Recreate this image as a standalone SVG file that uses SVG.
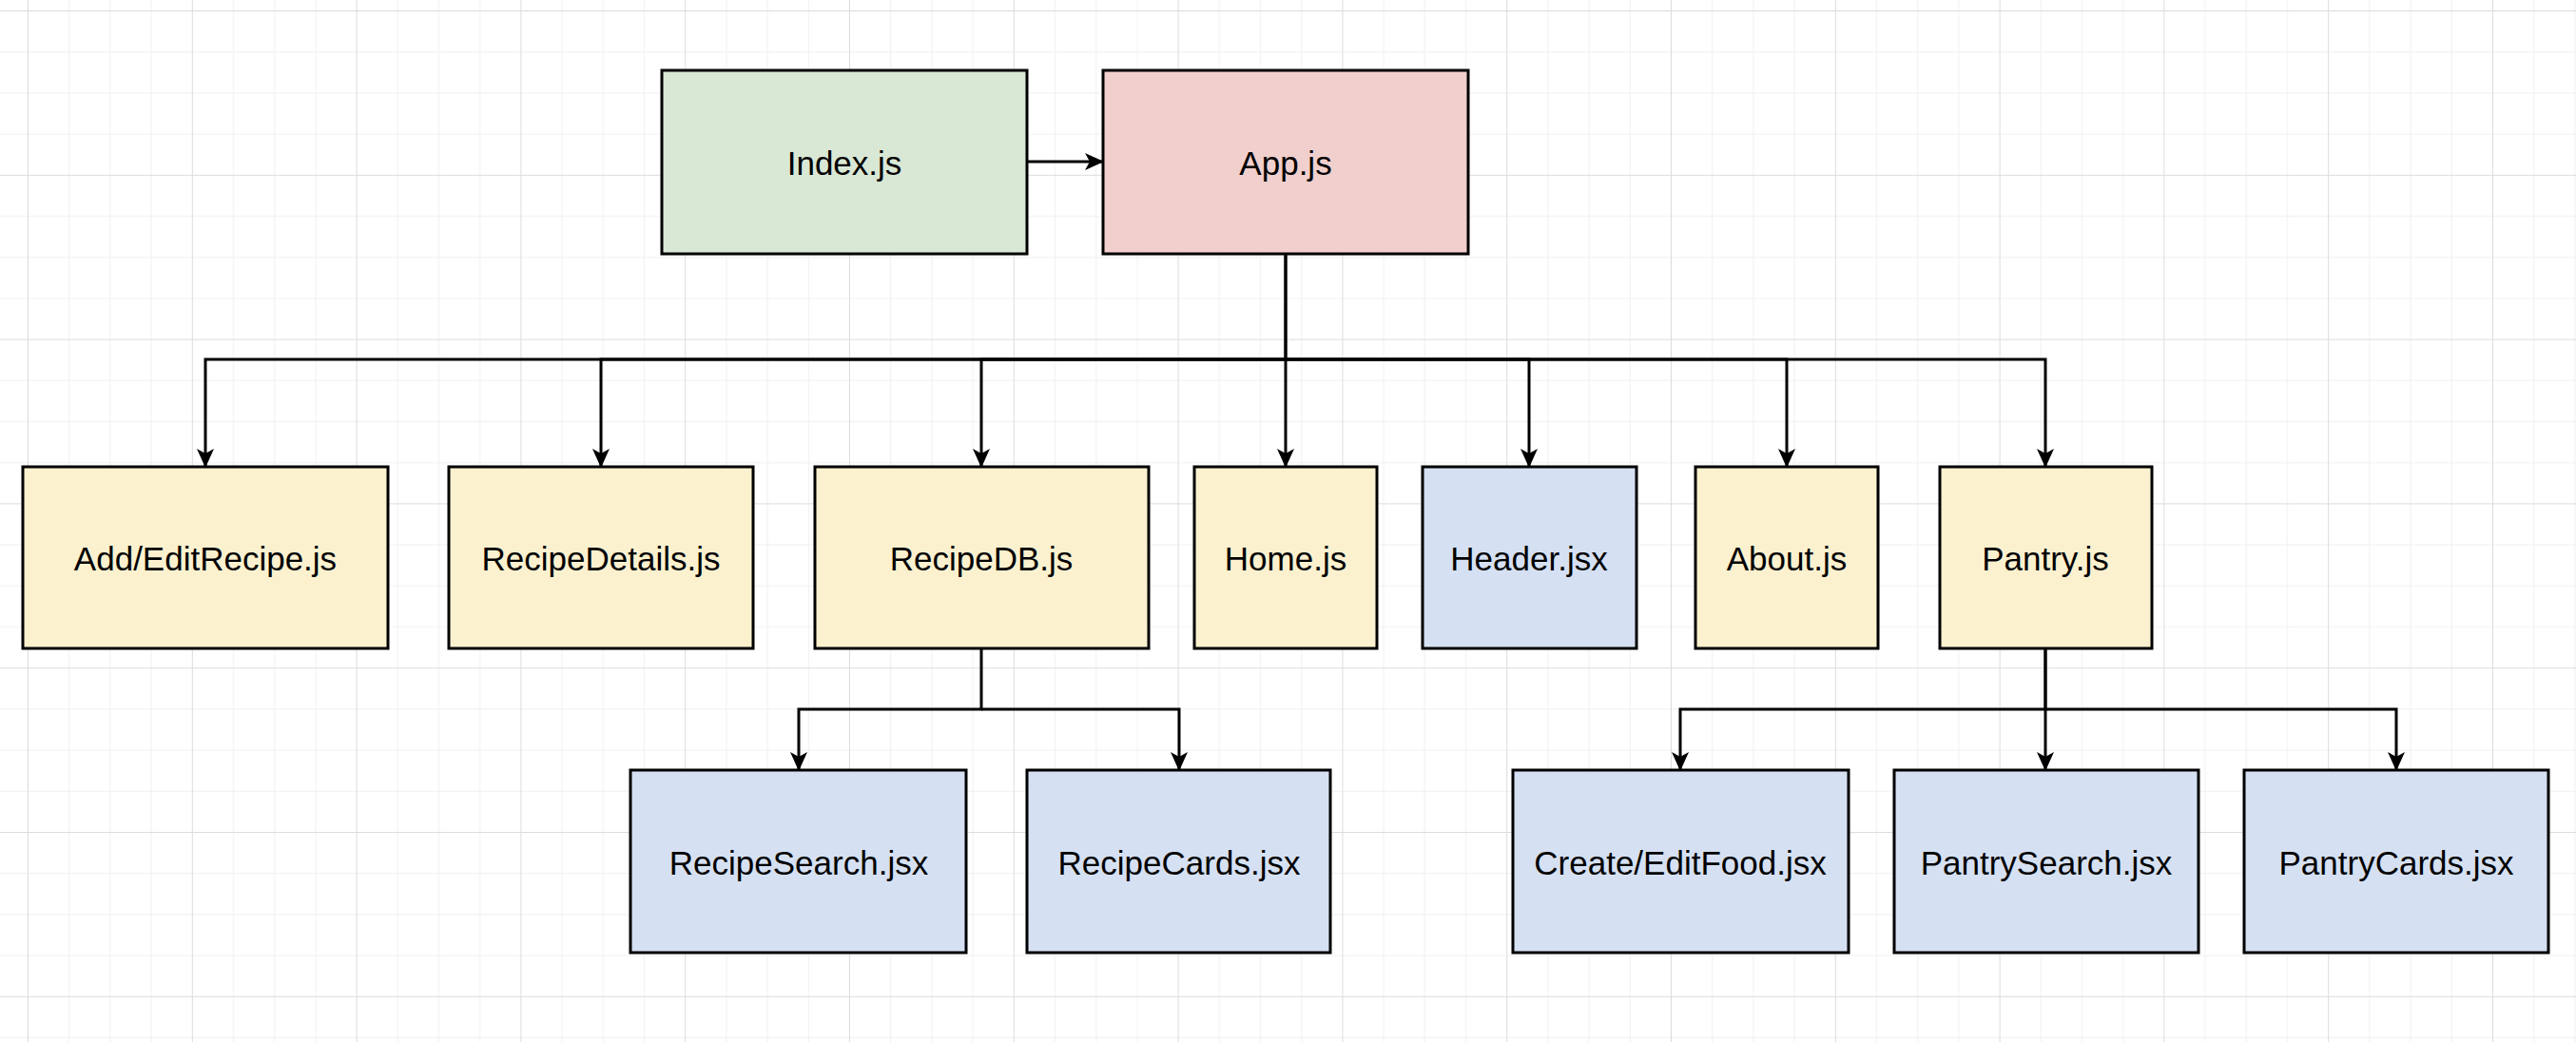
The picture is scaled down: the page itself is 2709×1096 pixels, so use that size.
<svg xmlns="http://www.w3.org/2000/svg" width="2709" height="1096" viewBox="0 0 2709 1096">
<defs>
<pattern id="g" width="43.2" height="43.2" patternUnits="userSpaceOnUse"><path d="M43.2 0V43.2H0" fill="none" stroke="#ececec" stroke-width="1.5"/></pattern>
<pattern id="G" width="172.8" height="172.8" patternUnits="userSpaceOnUse" x="30" y="12"><rect width="172.8" height="172.8" fill="url(#g)"/><path d="M172.8 0V172.8H0" fill="none" stroke="#dcdcdc" stroke-width="2"/></pattern>
<marker id="a" viewBox="0 0 20 20" refX="19" refY="10" markerWidth="20" markerHeight="20" markerUnits="userSpaceOnUse" orient="auto"><path d="M0 1L20 10L0 19L5 10Z" fill="#000"/></marker>
</defs>
<style>
.n rect{stroke:#000;stroke-width:3}
.y rect{fill:#fbf1cf}.b rect{fill:#d5e0f2}
text{font-family:"Liberation Sans",Arial,sans-serif;font-size:35px;text-anchor:middle;dominant-baseline:central;fill:#000}
#edges path{fill:none;stroke:#000;stroke-width:3;marker-end:url(#a)}
</style>
<rect width="2709" height="1096" fill="#fff"/>
<rect width="2709" height="1096" fill="url(#G)"/>
<g id="edges">
<path d="M1080 170H1160"/>
<path d="M1352 267V378H216V491"/>
<path d="M1352 378H632V491"/>
<path d="M1352 378H1032V491"/>
<path d="M1352 267V491"/>
<path d="M1352 378H1608V491"/>
<path d="M1352 378H1879V491"/>
<path d="M1352 378H2151V491"/>
<path d="M1032 682V746H840V810"/>
<path d="M1032 746H1240V810"/>
<path d="M2151 682V746H1767V810"/>
<path d="M2151 682V810"/>
<path d="M2151 746H2520V810"/>
</g>
<g id="index" class="n"><rect x="696" y="74" width="384" height="193" fill="#d9e7d5"/><text x="888" y="171">Index.js</text></g>
<g id="app" class="n"><rect x="1160" y="74" width="384" height="193" fill="#f1cfcd"/><text x="1352" y="171">App.js</text></g>
<g id="addedit" class="n y"><rect x="24" y="491" width="384" height="191"/><text x="216" y="587">Add/EditRecipe.js</text></g>
<g id="details" class="n y"><rect x="472" y="491" width="320" height="191"/><text x="632" y="587">RecipeDetails.js</text></g>
<g id="recipedb" class="n y"><rect x="857" y="491" width="351" height="191"/><text x="1032" y="587">RecipeDB.js</text></g>
<g id="home" class="n y"><rect x="1256" y="491" width="192" height="191"/><text x="1352" y="587">Home.js</text></g>
<g id="header" class="n b"><rect x="1496" y="491" width="225" height="191"/><text x="1608" y="587">Header.jsx</text></g>
<g id="about" class="n y"><rect x="1783" y="491" width="192" height="191"/><text x="1879" y="587">About.js</text></g>
<g id="pantry" class="n y"><rect x="2040" y="491" width="223" height="191"/><text x="2151" y="587">Pantry.js</text></g>
<g id="rsearch" class="n b"><rect x="663" y="810" width="353" height="192"/><text x="840" y="907">RecipeSearch.jsx</text></g>
<g id="rcards" class="n b"><rect x="1080" y="810" width="319" height="192"/><text x="1240" y="907">RecipeCards.jsx</text></g>
<g id="createfood" class="n b"><rect x="1591" y="810" width="353" height="192"/><text x="1767" y="907">Create/EditFood.jsx</text></g>
<g id="psearch" class="n b"><rect x="1992" y="810" width="320" height="192"/><text x="2152" y="907">PantrySearch.jsx</text></g>
<g id="pcards" class="n b"><rect x="2360" y="810" width="320" height="192"/><text x="2520" y="907">PantryCards.jsx</text></g>
</svg>
